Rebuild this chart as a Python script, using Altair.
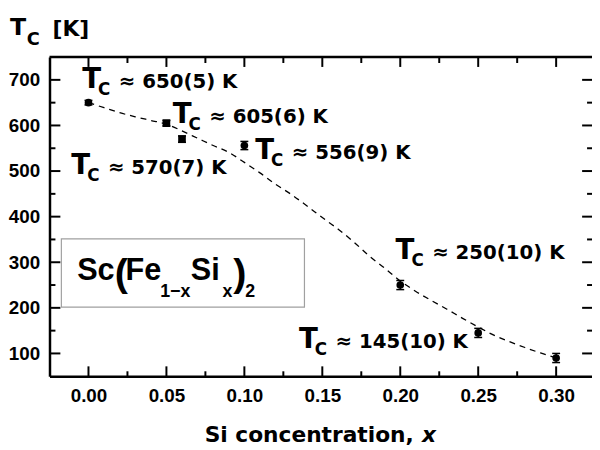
import altair as alt
import pandas as pd

# ---- data ----
x_conc = [0.00, 0.05, 0.06, 0.10, 0.20, 0.25, 0.30]
tc_vals = [650, 605, 570, 556, 250, 145, 90]
tc_err = [5, 6, 7, 9, 10, 10, 10]
marker = ["circle", "square", "square", "circle", "circle", "circle", "circle"]

fit_x = [0.00, 0.01, 0.02, 0.03, 0.04, 0.05, 0.06, 0.07, 0.08, 0.09, 0.10,
         0.11, 0.12, 0.13, 0.14, 0.15, 0.16, 0.17, 0.18, 0.19, 0.20,
         0.21, 0.22, 0.23, 0.24, 0.25, 0.26, 0.27, 0.28, 0.29, 0.30]
fit_y = [650, 639, 628, 619, 611, 603, 588, 572, 556, 541, 519,
         496, 471, 449, 424, 398, 373, 345, 314, 287, 259,
         236, 216, 197, 177, 158, 140, 126, 113, 101, 90]

label_text = ["≈ 650(5) K", "≈ 605(6) K", "≈ 570(7) K", "≈ 556(9) K",
              "≈ 250(10) K", "≈ 145(10) K"]
label_x = [-0.004, 0.054, -0.011, 0.107, 0.197, 0.135]
label_y = [683, 605, 494, 527, 308, 111]

x_ticks = [0.00, 0.05, 0.10, 0.15, 0.20, 0.25, 0.30]
x_minor = [0.025, 0.075, 0.125, 0.175, 0.225, 0.275]
y_ticks = [100, 200, 300, 400, 500, 600, 700]
y_minor = [150, 250, 350, 450, 550, 650]

# ---- tables ----
pts = pd.DataFrame({"x": x_conc, "tc": tc_vals, "marker": marker,
                    "lo": [v - e for v, e in zip(tc_vals, tc_err)],
                    "hi": [v + e for v, e in zip(tc_vals, tc_err)]})
fit = pd.DataFrame({"x": fit_x, "tc": fit_y})
labs = pd.DataFrame({"x": label_x, "tc": label_y, "text": label_text})
xt = pd.DataFrame({"x": x_ticks})
xm = pd.DataFrame({"x": x_minor})
yt = pd.DataFrame({"tc": y_ticks})
ym = pd.DataFrame({"tc": y_minor})
one = pd.DataFrame({"a": [0]})

W, H = 549, 323
xs = alt.Scale(domain=[-0.025, 0.323], nice=False, zero=False)
ys = alt.Scale(domain=[50, 750], nice=False, zero=False)

lab_font = "Liberation Sans"
ann_font = "DejaVu Sans"

xaxis = alt.Axis(values=x_ticks, format=".2f", ticks=False, grid=False,
                 domainColor="black", domainWidth=2.5, labelFont=lab_font,
                 labelFontWeight="bold", labelFontSize=19, labelColor="black",
                 labelPadding=11, labelFlush=False, title=None)
yaxis = alt.Axis(values=y_ticks, ticks=False, grid=False,
                 domainColor="black", domainWidth=2.5, labelFont=lab_font,
                 labelFontWeight="bold", labelFontSize=19, labelColor="black",
                 labelPadding=10, title=None)


def X(f):
    return alt.X(f, type="quantitative", scale=xs, axis=xaxis)


def Y(f):
    return alt.Y(f, type="quantitative", scale=ys, axis=yaxis)


layers = []

# fitted dashed curve
layers.append(alt.Chart(fit).mark_line(color="black", strokeWidth=1.3,
                                       strokeDash=[6, 5], interpolate="monotone")
              .encode(x=X("x"), y=Y("tc")))

# error bars
layers.append(alt.Chart(pts).mark_rule(color="black", strokeWidth=1.5)
              .encode(x=X("x"), y=Y("lo"), y2="hi"))
layers.append(alt.Chart(pts).mark_tick(color="black", orient="horizontal",
                                       size=8, thickness=1.5, opacity=1)
              .encode(x=X("x"), y=Y("lo")))
layers.append(alt.Chart(pts).mark_tick(color="black", orient="horizontal",
                                       size=8, thickness=1.5, opacity=1)
              .encode(x=X("x"), y=Y("hi")))

# points
layers.append(alt.Chart(pts).mark_point(filled=True, color="black", opacity=1, size=60)
              .encode(x=X("x"), y=Y("tc"), shape=alt.Shape("marker:N", scale=None)))

# inward ticks
tick_c = "black"
layers.append(alt.Chart(xt).mark_rule(color=tick_c, strokeWidth=2)
              .encode(x=X("x"), y=alt.value(H), y2=alt.value(H - 10)))
layers.append(alt.Chart(xm).mark_rule(color=tick_c, strokeWidth=2)
              .encode(x=X("x"), y=alt.value(H), y2=alt.value(H - 5)))
layers.append(alt.Chart(xt).mark_rule(color=tick_c, strokeWidth=2)
              .encode(x=X("x"), y=alt.value(0), y2=alt.value(10)))
layers.append(alt.Chart(xm).mark_rule(color=tick_c, strokeWidth=2)
              .encode(x=X("x"), y=alt.value(0), y2=alt.value(6)))
layers.append(alt.Chart(yt).mark_rule(color=tick_c, strokeWidth=2)
              .encode(y=Y("tc"), x=alt.value(0), x2=alt.value(11)))
layers.append(alt.Chart(ym).mark_rule(color=tick_c, strokeWidth=2)
              .encode(y=Y("tc"), x=alt.value(0), x2=alt.value(6)))
layers.append(alt.Chart(yt).mark_rule(color=tick_c, strokeWidth=2)
              .encode(y=Y("tc"), x=alt.value(W), x2=alt.value(W - 10)))
layers.append(alt.Chart(ym).mark_rule(color=tick_c, strokeWidth=2)
              .encode(y=Y("tc"), x=alt.value(W), x2=alt.value(W - 5)))
# top frame line
layers.append(alt.Chart(one).mark_rule(color="black", strokeWidth=2.5)
              .encode(x=alt.value(0), x2=alt.value(W), y=alt.value(0)))

# annotations T_C ≈ ...
layers.append(alt.Chart(labs).mark_text(text="T", font=ann_font, fontWeight="bold",
                                        fontSize=28, align="left", baseline="alphabetic",
                                        color="black")
              .encode(x=X("x"), y=Y("tc")))
layers.append(alt.Chart(labs).mark_text(text="C", font=ann_font, fontWeight="bold",
                                        fontSize=17, align="left", baseline="alphabetic",
                                        dx=16, dy=7, color="black")
              .encode(x=X("x"), y=Y("tc")))
layers.append(alt.Chart(labs).mark_text(font=ann_font, fontWeight="bold",
                                        fontSize=20, align="left", baseline="alphabetic",
                                        dx=37, color="black")
              .encode(x=X("x"), y=Y("tc"), text="text:N"))


def txt(s, px, py, size, font=lab_font, style="normal"):
    return (alt.Chart(one).mark_text(text=s, font=font, fontWeight="bold",
                                     fontStyle=style, fontSize=size, align="left",
                                     baseline="alphabetic", color="black")
            .encode(x=alt.value(px), y=alt.value(py)))


# formula box
layers.append(alt.Chart(one).mark_rect(fill="white", stroke="#a0a0a0", strokeWidth=1.2)
              .encode(x=alt.value(12), x2=alt.value(258), y=alt.value(184), y2=alt.value(253)))
layers.append(txt("Sc", 28, 226, 31))
layers.append(txt("(", 66, 232, 40))
layers.append(txt("Fe", 77, 226, 31))
layers.append(txt("1\u2212x", 112, 243, 18))
layers.append(txt("Si", 143, 226, 31))
layers.append(txt("x", 175, 243, 18))
layers.append(txt(")", 186, 232, 40))
layers.append(txt("2", 198, 243, 18))

# y title  T_C [K]
layers.append(txt("T", -40, -22, 24, font=ann_font))
layers.append(txt("C", -23, -12, 18, font=ann_font))
layers.append(txt("[K]", 3, -21, 22, font=ann_font))

# x title
layers.append(txt("Si concentration, ", 157, 390, 22, font=ann_font))
layers.append(txt("x", 377, 390, 22, font=ann_font, style="italic"))

chart = (alt.layer(*layers)
         .properties(width=W, height=H,
                     autosize=alt.AutoSizeParams(type="none"),
                     padding={"left": 42, "top": 47, "right": 0, "bottom": 72},
                     background="white")
         .configure_view(stroke=None))

chart.save("out.html", embed_options={"renderer": "svg", "actions": False})
